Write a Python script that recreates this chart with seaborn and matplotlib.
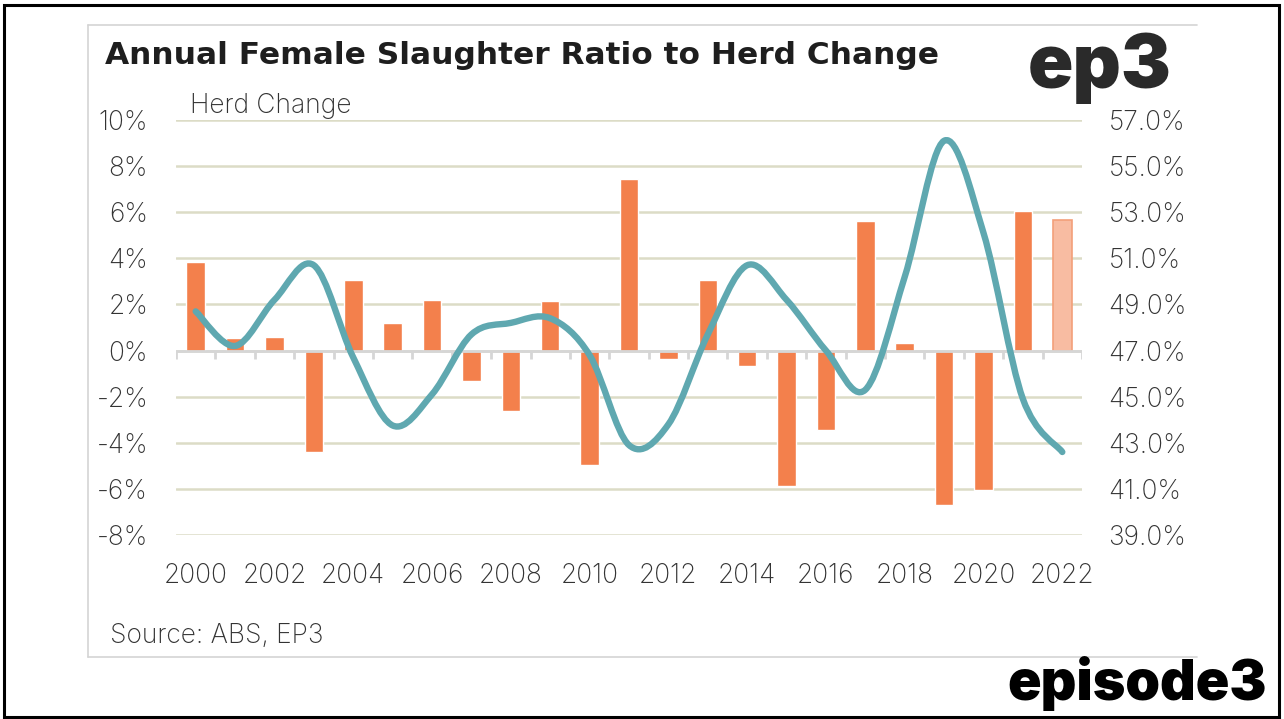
"""Annual female slaughter ratio vs herd change (ep3 style chart)."""

import matplotlib.pyplot as plt
import numpy as np
import pandas as pd
import seaborn as sns
from matplotlib.lines import Line2D
from matplotlib.patches import PathPatch, Rectangle
from matplotlib.path import Path

years = list(range(2000, 2023))
herd_change = [3.85, 0.53, 0.59, -4.38, 3.04, 1.2, 2.21, -1.33, -2.6, 2.17,
               -4.95, 7.42, -0.35, 3.08, -0.69, -5.86, -3.43, 5.61, 0.32,
               -6.72, -6.03, 6.07, 5.65]
female_ratio = [48.7, 47.2, 49.2, 50.7, 46.7, 43.75, 45.1, 47.7, 48.2, 48.4,
                46.8, 42.9, 43.8, 47.7, 50.7, 49.2, 47.0, 45.3, 50.2, 56.1,
                52.1, 44.9, 42.6]
left_ticks = list(range(-8, 11, 2))
right_ticks = list(range(39, 58, 2))

W, H = 1284, 719
BAR = "#f3804c"
BAR_LIGHT = "#f8bca2"
TEAL = "#5fa8b0"
GRID = "#dcdcc6"
TXT = "#333333"
FS = 19

sns.set_theme(style="white")
plt.rcParams["font.family"] = ["Inter", "DejaVu Sans"]

fig = plt.figure(figsize=(W / 100, H / 100), dpi=100)
ax = fig.add_axes([176 / W, 1 - 535 / H, (1082 - 176) / W, (535 - 120) / H])

df = pd.DataFrame({"year": [str(y) for y in years], "herd": herd_change})
colors = [BAR] * (len(years) - 1) + [BAR_LIGHT]
sns.barplot(data=df, x="year", y="herd", hue="year", palette=colors,
            legend=False, width=0.47, ax=ax, saturation=1)
last = ax.patches[-1]
last.set_edgecolor("#f3a07a")
last.set_linewidth(1.2)

ax.set_xlim(-0.5, len(years) - 0.5)
ax.set_ylim(-8, 10)
ax.set_yticks(left_ticks)
ax.set_yticklabels([f"{t}%" for t in left_ticks])
ax.set_xticks(range(0, len(years), 2))
ax.set_xticklabels([str(y) for y in years[::2]])
ax.set_xlabel("")
ax.set_ylabel("")
for side in ax.spines.values():
    side.set_visible(False)
ax.yaxis.grid(True, color=GRID, linewidth=1.8)
ax.set_axisbelow(True)
ax.tick_params(axis="both", length=0, labelsize=FS, colors=TXT)
ax.tick_params(axis="y", pad=20)
ax.tick_params(axis="x", pad=20)
for lab in ax.get_xticklabels() + ax.get_yticklabels():
    lab.set_fontweight("light")

# zero axis with category boundary ticks
ax.axhline(0, color="#d6d6d6", linewidth=2, zorder=1.5)
ax.vlines(np.arange(len(years) + 1) - 0.5, -0.36, 0, color="#d6d6d6",
          linewidth=2, zorder=1.5)

# right axis: female slaughter ratio, smoothed like an Excel line
ax2 = ax.twinx()
ax2.set_ylim(39, 57)
ax2.set_yticks(right_ticks)
ax2.set_yticklabels([f"{t:.1f}%" for t in right_ticks])
for side in ax2.spines.values():
    side.set_visible(False)
ax2.tick_params(axis="y", length=0, labelsize=FS, colors=TXT, pad=19)
ax2.grid(False)
for lab in ax2.get_yticklabels():
    lab.set_fontweight("light")

pts = np.column_stack([np.arange(len(years)), female_ratio]).astype(float)
ext = np.vstack([pts[0], pts, pts[-1]])
verts = [pts[0]]
codes = [Path.MOVETO]
for i in range(len(pts) - 1):
    p0, p1, p2, p3 = ext[i], ext[i + 1], ext[i + 2], ext[i + 3]
    verts += [p1 + (p2 - p0) / 6, p2 - (p3 - p1) / 6, p2]
    codes += [Path.CURVE4] * 3
ax2.add_patch(PathPatch(Path(verts, codes), facecolor="none", edgecolor=TEAL,
                        linewidth=4.6, capstyle="round", joinstyle="round",
                        zorder=3))

# frame, panel and text
fig.patches.append(Rectangle((4 / W, 1 - 717 / H), 1275 / W, 712 / H,
                             transform=fig.transFigure, fill=False,
                             edgecolor="black", linewidth=2.2))
for xs, ys in [([88, 1197], [25, 25]), ([88, 1197], [657, 657]),
               ([88, 88], [25, 657])]:
    fig.add_artist(Line2D([x / W for x in xs], [1 - y / H for y in ys],
                          color="#d4d4d4", linewidth=1.2))

fig.text(105 / W, 1 - 55 / H, "Annual Female Slaughter Ratio to Herd Change",
         fontsize=22.5, fontweight="bold", color="#1e1e1e", va="center",
         family="DejaVu Sans")
fig.text(190 / W, 1 - 106 / H, "Herd Change", fontsize=FS, color=TXT,
         va="center", fontweight="light")
fig.text(110 / W, 1 - 636 / H, "Source: ABS, EP3", fontsize=FS, color=TXT,
         va="center", fontweight="light")
fig.text(1028 / W, 1 - 88 / H, "ep3", fontsize=54, fontweight="black",
         color="#2a2a2a", va="baseline")
fig.text(1267 / W, 1 - 700 / H, "episode3", fontsize=40, fontweight="black",
         color="black", ha="right", va="baseline")

fig.savefig("out.png", dpi=100)
